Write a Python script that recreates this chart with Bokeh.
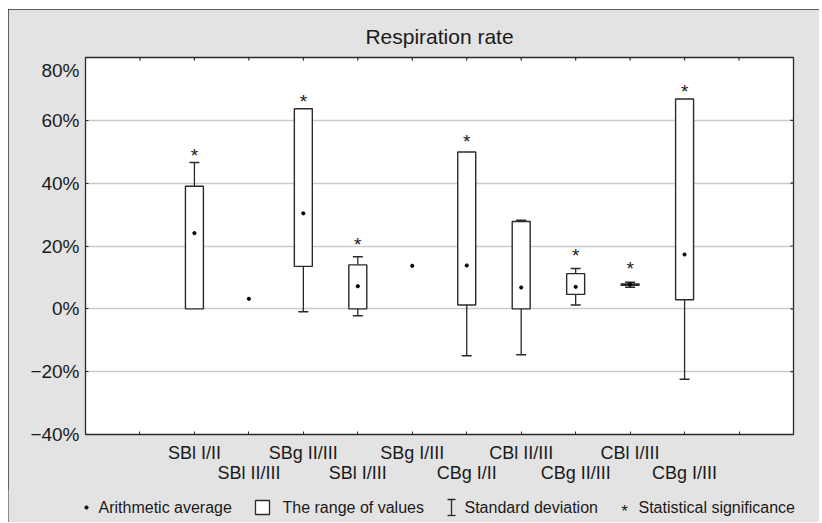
import math
from bokeh.plotting import figure
from bokeh.layouts import column
from bokeh.models import ColumnDataSource, FixedTicker, LinearAxis, Range1d
from bokeh.core.properties import value
from bokeh.embed import file_html
from bokeh.resources import INLINE

nan = float("nan")

# ---- data (percent) ----
categories = ["SBl I/II", "SBl II/III", "SBg II/III", "SBl I/III", "SBg I/III",
              "CBg I/II", "CBl II/III", "CBg II/III", "CBl I/III", "CBg I/III"]
means = [24.1, 3.2, 30.4, 7.2, 13.7, 13.8, 6.8, 7.0, 7.7, 17.3]
sds = [22.5, nan, 31.3, 9.4, nan, 28.7, 21.4, 5.8, 0.8, 39.7]
range_min = [0.0, nan, 13.5, 0.0, nan, 1.2, 0.0, 4.6, 7.5, 2.9]
range_max = [39.0, nan, 63.7, 14.0, nan, 49.9, 27.8, 11.2, 7.9, 66.8]
significant = [True, False, True, True, False, True, False, True, True, True]
star_level = [50.2, nan, 67.3, 21.9, nan, 54.4, nan, 18.2, 14.1, 70.4]
y_ticks = [-40, -20, 0, 20, 40, 60, 80]
y_tick_labels = ["\u221240%", "\u221220%", "0%", "20%", "40%", "60%", "\n80%"]
x_ticks = list(range(1, 13))
legend_labels = ["Arithmetic average", "The range of values",
                 "Standard deviation", "Statistical significance"]
title_text = "Respiration rate"

FONT = "Liberation Sans"
DARK = "#2a2a2a"
TXT = "#1a1a1a"
BG = "#e3e3e3"

pos = list(range(2, 2 + len(categories)))
upper = [m + s if not math.isnan(s) else nan for m, s in zip(means, sds)]
lower = [m - s if not math.isnan(s) else nan for m, s in zip(means, sds)]

src = ColumnDataSource(dict(x=pos, mean=means, upper=upper, lower=lower,
                            bmin=range_min, bmax=range_max))
star_src = ColumnDataSource(dict(
    x=[p for p, s in zip(pos, significant) if s],
    y=[v for v, s in zip(star_level, significant) if s],
    t=["*" for s in significant if s]))

p = figure(width=811, height=481, output_backend="svg", toolbar_location=None,
           x_range=Range1d(0, 13), y_range=Range1d(-40, 80),
           min_border_left=77, min_border_right=26, min_border_top=48,
           min_border_bottom=56)
p.background_fill_color = "white"
p.border_fill_color = BG
p.outline_line_color = DARK
p.outline_line_width = 1.3

p.title.text = title_text
p.title.align = "center"
p.title.text_font = FONT
p.title.text_font_size = "21px"
p.title.text_font_style = "normal"
p.title.text_color = TXT
p.title.standoff = 19

# grid
p.xgrid.grid_line_color = None
p.ygrid.ticker = FixedTicker(ticks=y_ticks[1:-1])
p.ygrid.grid_line_color = "#cbcbcb"
p.ygrid.grid_line_width = 1.3

# left axis
ya = p.yaxis[0]
ya.ticker = FixedTicker(ticks=y_ticks)
ya.major_label_overrides = {t: l for t, l in zip(y_ticks, y_tick_labels)}
ya.major_label_text_font = FONT
ya.major_label_text_font_size = "19px"
ya.major_label_text_color = TXT
ya.major_tick_in = 3
ya.major_tick_out = 0
ya.minor_tick_line_color = None
ya.major_tick_line_color = DARK
ya.axis_line_color = DARK
ya.major_label_standoff = 6

# bottom axes (two staggered rows)
row1 = {p_: "" for p_ in x_ticks}
row2 = {p_: "" for p_ in x_ticks}
for i, (p_, c) in enumerate(zip(pos, categories)):
    if i % 2 == 0:
        row1[p_] = c
    else:
        row2[p_] = c

xa = p.xaxis[0]
xa.ticker = FixedTicker(ticks=x_ticks)
xa.major_label_overrides = row1
xa.major_label_text_font = FONT
xa.major_label_text_font_size = "18px"
xa.major_label_text_color = TXT
xa.major_tick_in = 3
xa.major_tick_out = 0
xa.minor_tick_line_color = None
xa.major_tick_line_color = DARK
xa.axis_line_color = DARK
xa.major_label_standoff = 8

xa2 = LinearAxis(ticker=FixedTicker(ticks=x_ticks), major_label_overrides=row2,
                 major_label_text_font=FONT, major_label_text_font_size="18px",
                 major_label_text_color=TXT, major_tick_line_color=None,
                 minor_tick_line_color=None, axis_line_color=None,
                 major_label_standoff=-9)
p.add_layout(xa2, "below")

# inward ticks on top and right edges (markers half-clipped by the frame)
p.scatter(x=x_ticks, y=[y_ticks[-1]] * len(x_ticks), marker="dash",
          angle=math.pi / 2, size=6, line_color=DARK, line_width=1.2)
p.scatter(x=[13] * len(y_ticks), y=y_ticks, marker="dash", size=6,
          line_color=DARK, line_width=1.2)

# whiskers (mean +/- sd), drawn behind the boxes
p.segment(x0="x", x1="x", y0="lower", y1="upper", source=src,
          line_color=DARK, line_width=1.3)
p.scatter(x="x", y="upper", source=src, marker="dash", size=10,
          line_color=DARK, line_width=1.5)
p.scatter(x="x", y="lower", source=src, marker="dash", size=10,
          line_color=DARK, line_width=1.5)

# range boxes
p.vbar(x="x", width=0.33, bottom="bmin", top="bmax", source=src,
       fill_color="white", line_color=DARK, line_width=1.4)

# means
p.scatter(x="x", y="mean", source=src, marker="circle", size=3.2,
          fill_color="black", line_color="black")

# significance stars
p.text(x="x", y="y", text="t", source=star_src, text_align="center",
       text_baseline="middle", y_offset=4, text_font=value(FONT),
       text_font_size="19px", text_color=TXT)

# ---- legend strip: small figure in pixel units below the chart ----
LW, LH = 811, 33
lp = figure(width=LW, height=LH, output_backend="svg", toolbar_location=None,
            x_range=Range1d(0, LW), y_range=Range1d(0, LH),
            x_axis_type=None, y_axis_type=None,
            min_border_left=0, min_border_right=0, min_border_top=0,
            min_border_bottom=0)
for fig in (p, lp):
    try:
        fig.frame_align = False
    except Exception:
        pass
lp.background_fill_color = BG
lp.border_fill_color = BG
lp.outline_line_color = None
lp.xgrid.grid_line_color = None
lp.ygrid.grid_line_color = None
lp.styles = {"margin-top": "-1px"}

# legend layout (symbol x, label x) in strip pixels
sym_x = [78, 254, 443, 616]
lab_x = [90, 274, 456, 630]
ly = 15
lp.scatter(x=[sym_x[0]], y=[ly], marker="circle", size=3.2,
           fill_color="black", line_color="black")
lp.scatter(x=[sym_x[1]], y=[ly], marker="square", size=14, fill_color="white",
           line_color=DARK, line_width=1.3)
lp.segment(x0=[sym_x[2]], x1=[sym_x[2]], y0=[ly - 8], y1=[ly + 8],
           line_color=DARK, line_width=1.3)
lp.scatter(x=[sym_x[2], sym_x[2]], y=[ly - 8, ly + 8], marker="dash", size=8,
           line_color=DARK, line_width=1.3)
lp.text(x=[sym_x[3]], y=[ly], text=["*"], text_align="center",
        text_baseline="middle", y_offset=4, text_font=value(FONT),
        text_font_size="17px", text_color=TXT)
lp.text(x=lab_x, y=[ly] * 4, text=legend_labels, text_align="left",
        text_baseline="middle", text_font=value(FONT), text_font_size="16px",
        text_color=TXT)

layout = column(p, lp, spacing=0)
layout.styles = {"outline": "1px solid #333", "outline-offset": "-1px",
                 "margin-left": "8px", "margin-top": "9px"}

open("out.html", "w").write(file_html(layout, INLINE))
